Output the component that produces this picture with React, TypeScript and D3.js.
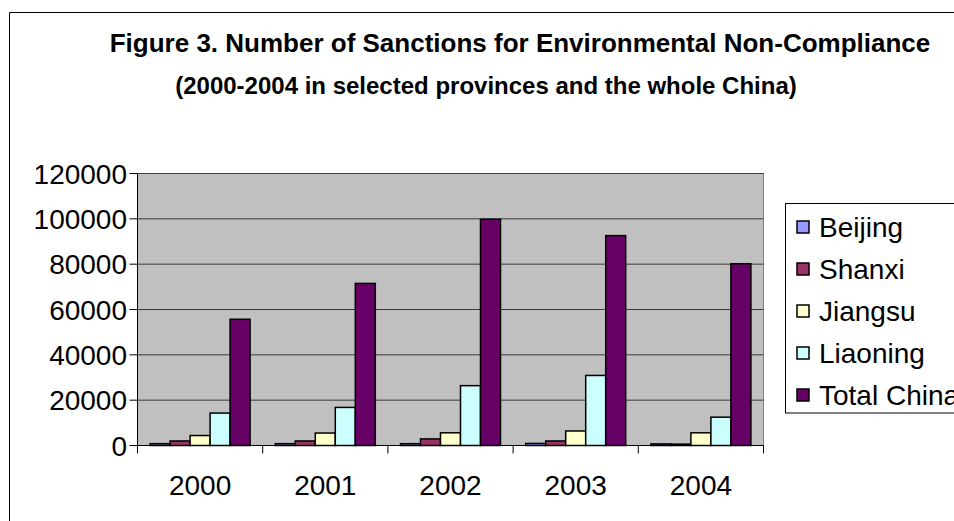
import React from "react";
import * as d3 from "d3";

const years = ["2000", "2001", "2002", "2003", "2004"];
const seriesNames = ["Beijing", "Shanxi", "Jiangsu", "Liaoning", "Total China"];
const beijing = [800, 800, 800, 900, 700];
const shanxi = [2000, 2000, 2900, 2000, 600];
const jiangsu = [4400, 5500, 5600, 6400, 5600];
const liaoning = [14300, 16800, 26400, 30900, 12500];
const totalChina = [55700, 71500, 99800, 92600, 80200];
const seriesColors = ["#9999FF", "#993366", "#FFFFCC", "#CCFFFF", "#660066"];
const yTicks = [0, 20000, 40000, 60000, 80000, 100000, 120000];
const titleText = "Figure 3. Number of Sanctions for Environmental Non-Compliance";
const subtitleText = "(2000-2004 in selected provinces and the whole China)";

const W = 954;
const H = 521;
const plot = { left: 137.5, right: 763.5, top: 173.5, bottom: 445.5 };
const FONT = "'Liberation Sans', Arial, Helvetica, sans-serif";

export default function App() {
  const values = [beijing, shanxi, jiangsu, liaoning, totalChina];
  const x0 = d3.scaleBand<string>().domain(years).range([plot.left, plot.right]).padding(0);
  const x1 = d3
    .scaleBand<string>()
    .domain(seriesNames)
    .range([0, x0.bandwidth()])
    .paddingInner(0)
    .paddingOuter(0.63);
  const y = d3.scaleLinear().domain([0, 120000]).range([plot.bottom, plot.top]);

  return (
    <svg
      width={W}
      height={H}
      style={{ position: "absolute", left: 0, top: 0, background: "#fff" }}
      fontFamily={FONT}
    >
      <rect x={0} y={0} width={W} height={H} fill="#fff" />
      {/* chart border */}
      <path d={`M9.5,${H + 5} V12.5 H${W + 5}`} fill="none" stroke="#000" strokeWidth={1} />

      {/* titles */}
      <text x={520} y={51.5} textAnchor="middle" fontSize={26} fontWeight="bold" fill="#000">
        {titleText}
      </text>
      <text x={486} y={94} textAnchor="middle" fontSize={24} fontWeight="bold" fill="#000">
        {subtitleText}
      </text>

      {/* plot area */}
      <rect
        x={plot.left}
        y={plot.top}
        width={plot.right - plot.left}
        height={plot.bottom - plot.top}
        fill="#C0C0C0"
        stroke="#808080"
        strokeWidth={1}
      />
      {yTicks.map((t) => (
        <line
          key={"g" + t}
          x1={plot.left}
          x2={plot.right}
          y1={y(t)}
          y2={y(t)}
          stroke="#3a3a3a"
          strokeWidth={1}
        />
      ))}

      {/* bars */}
      {years.map((yr, i) => (
        <g key={yr} transform={`translate(${x0(yr)},0)`}>
          {seriesNames.map((s, j) => {
            const v = values[j][i];
            const top = y(v);
            return (
              <rect
                key={s}
                x={x1(s)}
                y={top}
                width={x1.bandwidth()}
                height={plot.bottom - top}
                fill={seriesColors[j]}
                stroke="#000"
                strokeWidth={1.5}
              />
            );
          })}
        </g>
      ))}

      {/* axes */}
      <line x1={plot.left} x2={plot.left} y1={plot.top} y2={plot.bottom} stroke="#000" strokeWidth={1} />
      <line x1={plot.left} x2={plot.right} y1={plot.bottom} y2={plot.bottom} stroke="#000" strokeWidth={1} />
      {yTicks.map((t) => (
        <g key={"yt" + t}>
          <line x1={plot.left - 8} x2={plot.left} y1={y(t)} y2={y(t)} stroke="#000" strokeWidth={1} />
          <text x={127} y={y(t)} dy="0.36em" textAnchor="end" fontSize={28} fill="#000">
            {t}
          </text>
        </g>
      ))}
      {[...years.map((yr) => x0(yr) as number), plot.right].map((xv, k) => (
        <line key={"xt" + k} x1={xv} x2={xv} y1={plot.bottom} y2={plot.bottom + 8} stroke="#000" strokeWidth={1} />
      ))}
      {years.map((yr) => (
        <text
          key={"xl" + yr}
          x={(x0(yr) as number) + x0.bandwidth() / 2}
          y={495}
          textAnchor="middle"
          fontSize={28}
          fill="#000"
        >
          {yr}
        </text>
      ))}

      {/* legend */}
      <rect x={785.5} y={203.5} width={200} height={209.5} fill="#fff" stroke="#000" strokeWidth={1} />
      {seriesNames.map((s, j) => {
        const cy = 227 + j * 42;
        return (
          <g key={"lg" + s}>
            <rect x={797} y={cy - 6} width={12} height={12} fill={seriesColors[j]} stroke="#000" strokeWidth={1.5} />
            <text x={819} y={cy} dy="0.36em" fontSize={28} fill="#000">
              {s}
            </text>
          </g>
        );
      })}
    </svg>
  );
}
